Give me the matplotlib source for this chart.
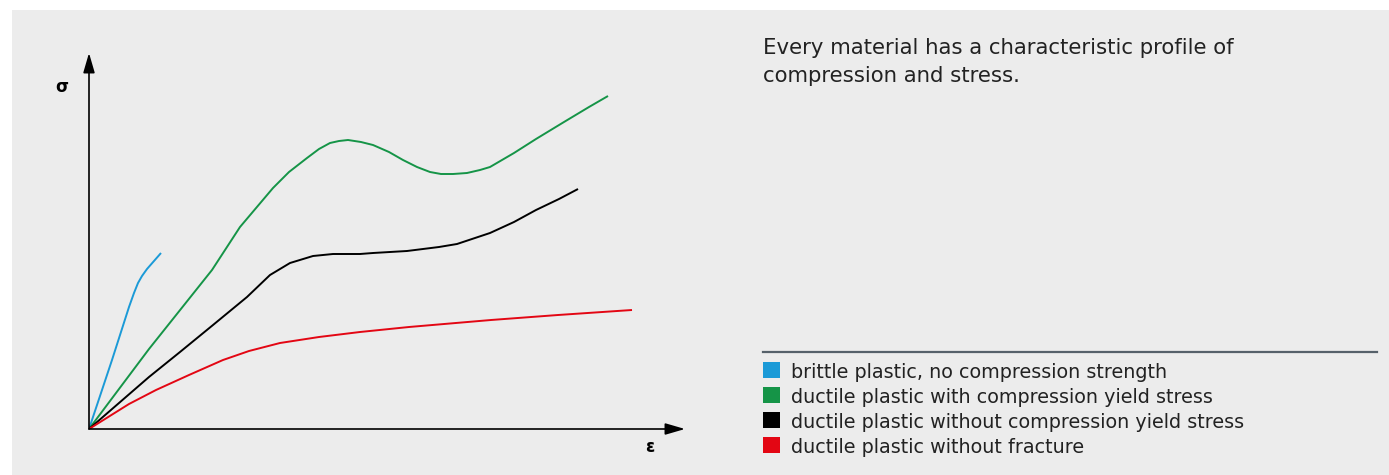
import numpy as np
import matplotlib.pyplot as plt
from matplotlib.patches import Rectangle

# curve points (strain, stress in arbitrary units)
blue_x = [0, 23, 40, 45, 49, 53, 58, 65, 72]
blue_y = [0, 69, 122, 136, 146, 153, 160, 168, 176]

green_x = [0, 60, 123, 151, 184, 200, 218, 230, 241, 250, 259, 272, 284, 300, 314, 328, 341, 352, 364, 378, 391, 401, 425, 447, 475, 500, 519]
green_y = [0, 80, 159, 202, 241, 257, 271, 280, 286, 288, 289, 287, 284, 277, 269, 262, 257, 255, 255, 256, 259, 262, 276, 290, 307, 322, 333]

black_x = [0, 60, 91, 124, 158, 181, 201, 224, 244, 271, 284, 318, 350, 368, 401, 425, 447, 470, 489]
black_y = [0, 52, 77, 104, 132, 154, 166, 173, 175, 175, 176, 178, 182, 185, 196, 207, 219, 230, 240]

red_x = [0, 40, 67, 100, 134, 160, 191, 230, 271, 320, 402, 469, 543]
red_y = [0, 25, 39, 54, 69, 78, 86, 92, 97, 102, 109, 114, 119]

heading = ["Every material has a characteristic profile of", "compression and stress."]
legend_labels = [
    "brittle plastic, no compression strength",
    "ductile plastic with compression yield stress",
    "ductile plastic without compression yield stress",
    "ductile plastic without fracture",
]
colors = ["#1b9ad7", "#159447", "#000000", "#e30613"]

W, H = 1389, 475
fig = plt.figure(figsize=(W / 100, H / 100), dpi=100)
fig.patch.set_facecolor("white")
bg = Rectangle((12 / W, 0), 1 - 12 / W, 1 - 10 / H, transform=fig.transFigure,
               facecolor="#ececec", edgecolor="none", zorder=-5)
fig.patches.append(bg)

ox, oy = 89, 429
ax = fig.add_axes([ox / W, (H - oy) / H, (685 - ox) / W, (oy - 53) / H])
ax.set_xlim(0, 685 - ox)
ax.set_ylim(0, oy - 53)
ax.axis("off")
ax.patch.set_alpha(0)

for xs, ys, c in zip([blue_x, green_x, black_x, red_x],
                     [blue_y, green_y, black_y, red_y], colors):
    ax.plot(xs, ys, color=c, lw=1.4, solid_joinstyle="round", solid_capstyle="butt")

# axes arrows
arrow = dict(arrowstyle="-|>,head_length=1.2,head_width=0.35", color="black", lw=1.2,
             shrinkA=0, shrinkB=0)
ax.annotate("", xy=(596, 0), xytext=(0, 0), arrowprops=arrow, annotation_clip=False)
ax.annotate("", xy=(0, 376), xytext=(0, 0), arrowprops=arrow, annotation_clip=False)

fig.text(62 / W, 1 - 87 / H, "σ", fontsize=12, fontweight="bold", ha="center", va="center")
fig.text(650 / W, 1 - 447 / H, "ε", fontsize=12, fontweight="bold", ha="center", va="center")

tc = "#222222"
for i, line in enumerate(heading):
    fig.text(763 / W, 1 - (54 + 28 * i) / H, line, fontsize=15.3, color=tc,
             ha="left", va="baseline", family="DejaVu Sans")

fig.add_artist(plt.Line2D([763 / W, 1377 / W], [1 - 352 / H, 1 - 352 / H],
                          color="#56616a", lw=1.6, transform=fig.transFigure))

for i, (lab, c) in enumerate(zip(legend_labels, colors)):
    base = 378 + i * 25
    fig.patches.append(Rectangle((763 / W, 1 - base / H), 17 / W, 16 / H,
                                 transform=fig.transFigure, facecolor=c, edgecolor="none"))
    fig.text(791 / W, 1 - base / H, lab, fontsize=13.8, color=tc, ha="left", va="baseline",
             family="DejaVu Sans")

fig.savefig("out.png", dpi=100)
